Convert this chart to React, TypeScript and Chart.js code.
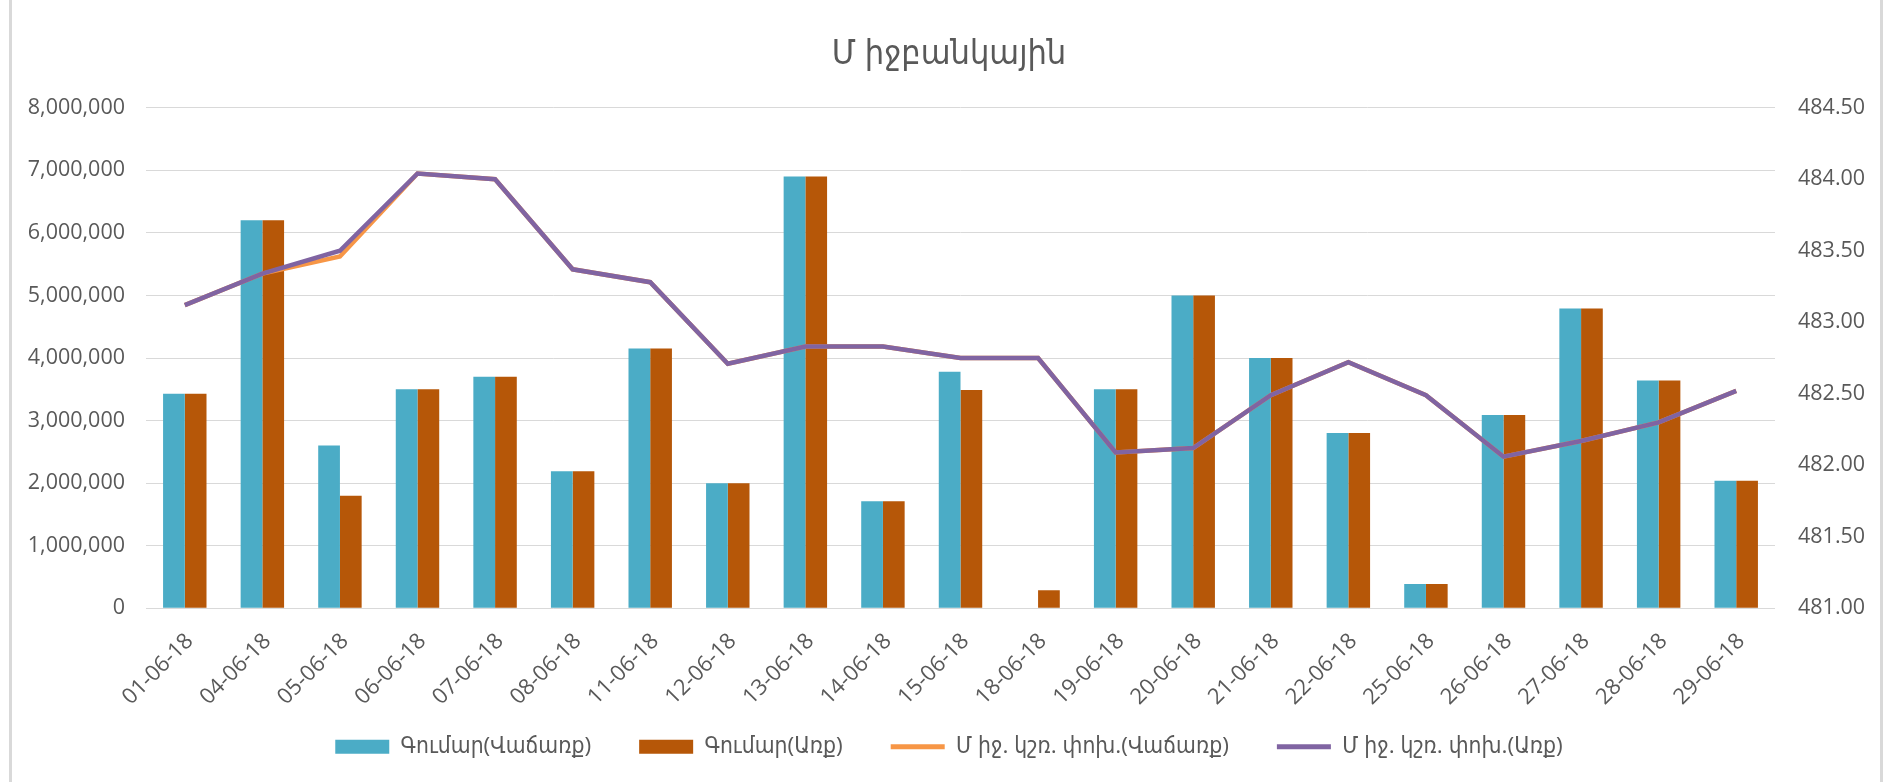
import React, { useEffect, useRef } from "react";
import { Chart, registerables } from "chart.js";

Chart.register(...registerables);

const categories = [
  "01-06-18", "04-06-18", "05-06-18", "06-06-18", "07-06-18", "08-06-18", "11-06-18",
  "12-06-18", "13-06-18", "14-06-18", "15-06-18", "18-06-18", "19-06-18", "20-06-18",
  "21-06-18", "22-06-18", "25-06-18", "26-06-18", "27-06-18", "28-06-18", "29-06-18",
];

const amountSell = [
  3430000, 6200000, 2600000, 3500000, 3700000, 2190000, 4150000,
  2000000, 6900000, 1710000, 3780000, 0, 3500000, 5000000,
  4000000, 2800000, 390000, 3090000, 4790000, 3640000, 2040000,
];

const amountBuy = [
  3430000, 6200000, 1800000, 3500000, 3700000, 2190000, 4150000,
  2000000, 6900000, 1710000, 3490000, 290000, 3500000, 5000000,
  4000000, 2800000, 390000, 3090000, 4790000, 3640000, 2040000,
];

const rateSell = [
  483.12, 483.34, 483.46, 484.04, 484.0, 483.37, 483.28,
  482.71, 482.83, 482.83, 482.75, 482.75, 482.09, 482.12,
  482.49, 482.72, 482.49, 482.06, 482.17, 482.3, 482.52,
];

const rateBuy = [
  483.12, 483.34, 483.5, 484.04, 484.0, 483.37, 483.28,
  482.71, 482.83, 482.83, 482.75, 482.75, 482.09, 482.12,
  482.49, 482.72, 482.49, 482.06, 482.17, 482.3, 482.52,
];

const seriesNames = [
  "Գումար(Վաճառք)",
  "Գումար(Առք)",
  "Մ իջ. կշռ. փոխ.(Վաճառք)",
  "Մ իջ. կշռ. փոխ.(Առք)",
];

const chartTitle = "Մ իջբանկային";

const leftTicks = { min: 0, max: 8000000, step: 1000000 };
const rightTicks = { min: 481, max: 484.5, step: 0.5 };

const W = 1883;
const H = 782;
const PAD_LEFT = 15;
const FONT = "'Open Sans', 'DejaVu Sans Condensed', 'DejaVu Sans', sans-serif";
const TEXT = "#595959";
const GRID = "#D9D9D9";
const TEAL = "#4BACC6";
const BROWN = "#B65708";
const ORANGE = "#F79646";
const PURPLE = "#8064A2";

export default function App() {
  const ref = useRef<HTMLCanvasElement | null>(null);

  useEffect(() => {
    if (!ref.current) return;
    const defaultGen = Chart.defaults.plugins.legend.labels.generateLabels;
    const chart = new Chart(ref.current, {
      type: "bar",
      data: {
        labels: categories,
        datasets: [
          {
            type: "bar",
            label: seriesNames[0],
            data: amountSell,
            backgroundColor: TEAL,
            borderWidth: 0,
            yAxisID: "y",
            order: 2,
            categoryPercentage: 0.56,
            barPercentage: 1.0,
          } as any,
          {
            type: "bar",
            label: seriesNames[1],
            data: amountBuy,
            backgroundColor: BROWN,
            borderWidth: 0,
            yAxisID: "y",
            order: 3,
            categoryPercentage: 0.56,
            barPercentage: 1.0,
          } as any,
          {
            type: "line",
            label: seriesNames[2],
            data: rateSell,
            borderColor: ORANGE,
            backgroundColor: ORANGE,
            borderWidth: 4.5,
            pointRadius: 0,
            tension: 0,
            yAxisID: "y1",
            order: 1,
          } as any,
          {
            type: "line",
            label: seriesNames[3],
            data: rateBuy,
            borderColor: PURPLE,
            backgroundColor: PURPLE,
            borderWidth: 4.5,
            pointRadius: 0,
            tension: 0,
            yAxisID: "y1",
            order: 0,
          } as any,
        ],
      },
      options: {
        responsive: false,
        animation: false,
        devicePixelRatio: 1,
        layout: { padding: { left: PAD_LEFT, right: 0, top: 0, bottom: 14 } },
        plugins: {
          tooltip: { enabled: false },
          title: {
            display: true,
            text: chartTitle,
            color: TEXT,
            font: { family: FONT, size: 34, weight: "normal", lineHeight: 1.2 },
            padding: { top: 34, bottom: 32.9 },
          },
          legend: {
            display: true,
            position: "bottom",
            labels: {
              color: TEXT,
              font: { family: FONT, size: 22.7, lineHeight: 1.2 },
              usePointStyle: true,
              pointStyleWidth: 54,
              boxHeight: 14,
              padding: 48,
              generateLabels: (c: any) => {
                const items = defaultGen(c).slice();
                items.sort((a: any, b: any) => a.datasetIndex - b.datasetIndex);
                return items.map((it: any) => {
                  const ds = c.data.datasets[it.datasetIndex];
                  if (ds.type === "line") {
                    return { ...it, pointStyle: "line", strokeStyle: ds.borderColor, fillStyle: ds.borderColor, lineWidth: 5 };
                  }
                  return { ...it, pointStyle: "rect", fillStyle: ds.backgroundColor, strokeStyle: ds.backgroundColor, lineWidth: 0 };
                });
              },
            },
          },
        },
        scales: {
          x: {
            grid: { display: false, drawTicks: false },
            border: { display: false },
            ticks: {
              color: TEXT,
              font: { family: FONT, size: 22 },
              minRotation: 45,
              maxRotation: 45,
              autoSkip: false,
              padding: 20,
              labelOffset: 5,
            },
            afterFit: (s: any) => {
              const lh = s.chart.legend ? s.chart.legend.height : 0;
              s.height = H - 608.3 - lh - 14;
              s._computeLabelArea = () => undefined;
            },
          },
          y: {
            position: "left",
            min: leftTicks.min,
            max: leftTicks.max,
            grid: { color: GRID, lineWidth: 1, drawTicks: false },
            border: { display: false },
            ticks: {
              stepSize: leftTicks.step,
              color: TEXT,
              font: { family: FONT, size: 21.5 },
              padding: 21,
              callback: (v: any) => Number(v).toLocaleString("en-US"),
            },
            afterFit: (s: any) => {
              s.width = 146 - PAD_LEFT;
            },
          },
          y1: {
            position: "right",
            min: rightTicks.min,
            max: rightTicks.max,
            grid: { display: false, drawTicks: false },
            border: { display: false },
            ticks: {
              stepSize: rightTicks.step,
              color: TEXT,
              font: { family: FONT, size: 21.5 },
              padding: 23,
              callback: (v: any) => Number(v).toFixed(2),
            },
            afterFit: (s: any) => {
              s.width = W - 1775;
            },
          },
        },
      } as any,
    });
    return () => chart.destroy();
  }, []);

  return (
    <div style={{ position: "fixed", left: 0, top: 0, width: W, height: H, background: "#fff", overflow: "hidden" }}>
      <canvas ref={ref} width={W} height={H} style={{ position: "absolute", left: 0, top: 0, width: W, height: H }} />
      <div style={{ position: "absolute", left: 9, top: 0, width: 3, height: H, background: GRID, pointerEvents: "none" }} />
      <div style={{ position: "absolute", left: 1880, top: 0, width: 3, height: H, background: GRID, pointerEvents: "none" }} />
    </div>
  );
}
